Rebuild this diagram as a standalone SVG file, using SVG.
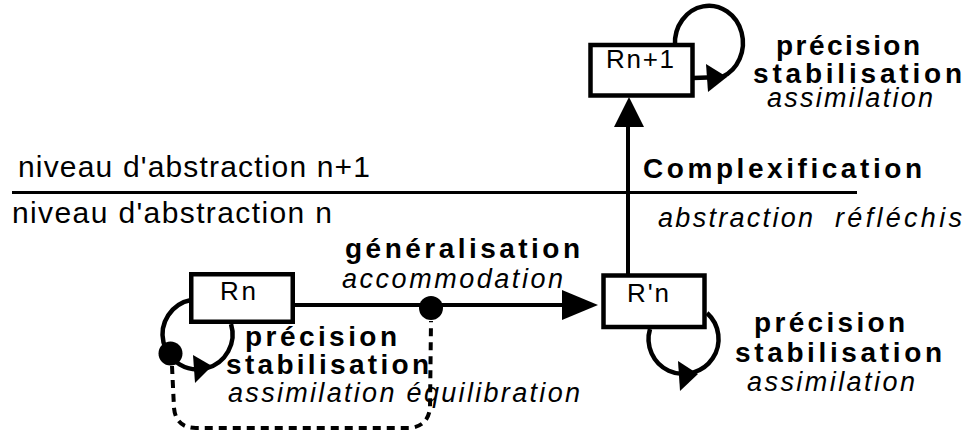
<svg xmlns="http://www.w3.org/2000/svg" width="964" height="432" viewBox="0 0 964 432">
<style>
.box{fill:#fff;stroke:#000;stroke-width:4.5}
.nl{font-family:"Liberation Sans",Arial,sans-serif;font-size:26px;fill:#000}
.reg{font-family:"Liberation Sans",Arial,sans-serif;font-size:30px;fill:#000}
.b{font-family:"Liberation Sans",Arial,sans-serif;font-size:28px;font-weight:bold;fill:#000}
.i{font-family:"Liberation Sans",Arial,sans-serif;font-size:27px;font-style:italic;fill:#000}
.ln{fill:none;stroke:#000;stroke-width:4}
.thin{fill:none;stroke:#000;stroke-width:3}
.loop{fill:none;stroke:#000;stroke-width:4.5}
.dash{fill:none;stroke:#000;stroke-width:4;stroke-dasharray:8 6}
.head{fill:#000;stroke:none}
</style>
<rect width="964" height="432" fill="#fff"/>

<g id="levels">
<line class="thin" x1="12" y1="192.5" x2="857" y2="192.5"/>
<text class="reg" x="18" y="177" textLength="352" lengthAdjust="spacing">niveau d'abstraction n+1</text>
<text class="reg" x="12" y="223" textLength="320" lengthAdjust="spacing">niveau d'abstraction n</text>
</g>

<g id="connectors">
<!-- Rn -> R'n -->
<line class="ln" x1="290" y1="305" x2="566" y2="305"/>
<polygon class="head" points="562,290 598,305 562,320"/>
<circle class="head" cx="431" cy="308" r="12"/>
<!-- R'n -> Rn+1 -->
<line class="ln" x1="628" y1="276" x2="628" y2="124"/>
<polygon class="head" points="614,127 629,97 644,127"/>
<!-- Rn loop -->
<path class="loop" d="M191,300 A35,35 0 1 0 231,324"/>
<polygon class="head" points="193,355 195,383 212,366"/>
<circle class="head" cx="170.5" cy="353.5" r="12"/>
<!-- R'n loop -->
<path class="loop" d="M650,329 A35,35 0 1 0 707,313"/>
<polygon class="head" points="678,361 680,391 698,374"/>
<!-- Rn+1 loop -->
<path class="loop" d="M693,78 L722,77 A34,37 0 1 0 675,45"/>
<polygon class="head" points="706,64 708,92 727,77"/>
<!-- dashed equilibration -->
<path class="dash" d="M172,366 L174,408 Q176,428 196,428 L410,428 Q428,426 430,408 L431,321"/>
</g>

<g id="node-rn">
<rect class="box" x="191.25" y="274.25" width="101.5" height="47.5"/>
<text class="nl" x="220" y="300" textLength="36" lengthAdjust="spacing">Rn</text>
</g>
<g id="node-rpn">
<rect class="box" x="603.5" y="275.5" width="101" height="51.5"/>
<text class="nl" x="627" y="302" textLength="42" lengthAdjust="spacing">R'n</text>
</g>
<g id="node-rn1">
<rect class="box" x="590.5" y="45" width="102" height="50.5"/>
<text class="nl" x="606" y="68" textLength="68" lengthAdjust="spacing">Rn+1</text>
</g>

<g id="labels">
<text class="b" x="345" y="258" textLength="235" lengthAdjust="spacing">généralisation</text>
<text class="i" x="342" y="288" textLength="221" lengthAdjust="spacing">accommodation</text>
<text class="b" x="643" y="178" textLength="279" lengthAdjust="spacing">Complexification</text>
<text class="i" x="658" y="227" textLength="155" lengthAdjust="spacing">abstraction</text>
<text class="i" x="835" y="227" textLength="127" lengthAdjust="spacing">réfléchis</text>

<text class="b" x="245" y="346" textLength="152" lengthAdjust="spacing">précision</text>
<text class="b" x="226" y="374" textLength="203" lengthAdjust="spacing">stabilisation</text>
<text class="i" x="228" y="402" textLength="352" lengthAdjust="spacing">assimilation équilibration</text>

<text class="b" x="754" y="332" textLength="151" lengthAdjust="spacing">précision</text>
<text class="b" x="735" y="362" textLength="207" lengthAdjust="spacing">stabilisation</text>
<text class="i" x="747" y="391" textLength="168" lengthAdjust="spacing">assimilation</text>

<text class="b" x="776" y="55" textLength="144" lengthAdjust="spacing">précision</text>
<text class="b" x="753" y="83" textLength="209" lengthAdjust="spacing">stabilisation</text>
<text class="i" x="767" y="107" textLength="166" lengthAdjust="spacing">assimilation</text>
</g>
</svg>
